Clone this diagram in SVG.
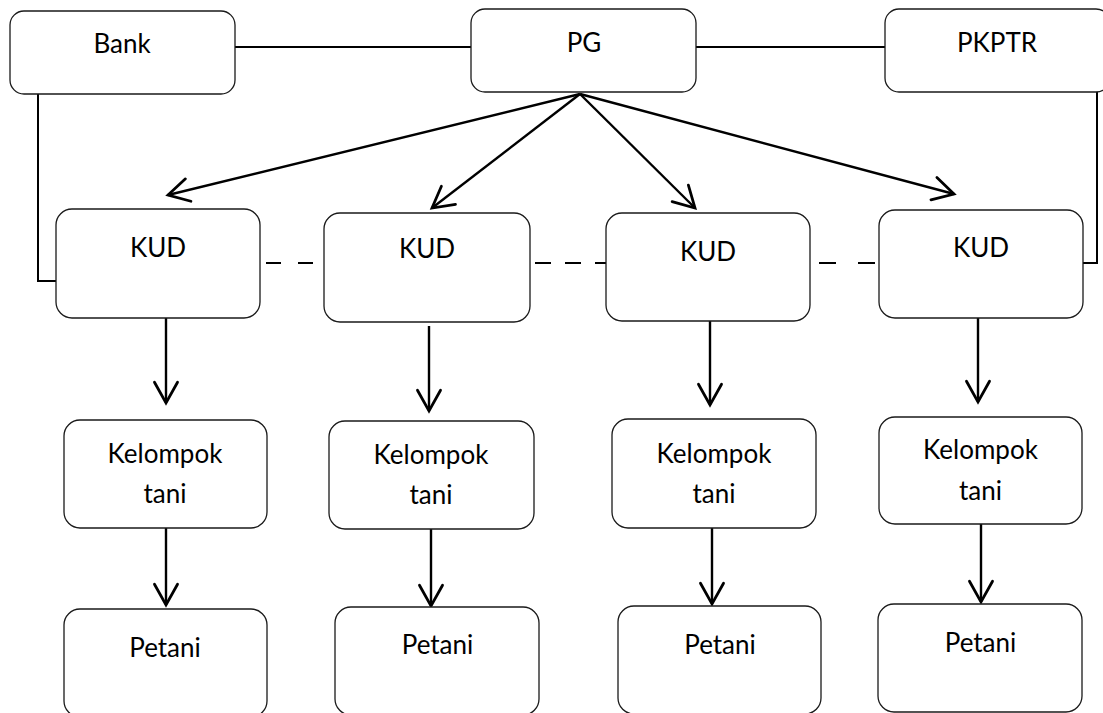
<svg xmlns="http://www.w3.org/2000/svg" width="1103" height="713" viewBox="0 0 1103 713">
<style>
.box{fill:#fff;stroke:#1a1a1a;stroke-width:1.3}
.t{font-family:Lato,"Open Sans","Liberation Sans",sans-serif;font-size:26px;fill:#000;text-anchor:middle}
.c{fill:none;stroke:#000;stroke-width:2}
.a{fill:none;stroke:#000;stroke-width:2.4}
.d{fill:none;stroke:#000;stroke-width:2;stroke-dasharray:15 17}
</style>
<defs>
<marker id="arr" markerUnits="userSpaceOnUse" markerWidth="30" markerHeight="30" viewBox="-22 -13 26 26" refX="0" refY="0" orient="auto" overflow="visible">
<path d="M-18,-10 L0,0 L-18,10" fill="none" stroke="#000" stroke-width="2.4" stroke-linecap="round" stroke-linejoin="miter"/>
</marker>
</defs>
<rect width="1103" height="713" fill="#fff"/>
<g id="connectors">
<path class="c" d="M235,47 H471"/>
<path class="c" d="M696,47 H890"/>
<path class="c" d="M38,94 V281 H56"/>
<path class="c" d="M1097,92 V263 H1079"/>
<path class="d" d="M266,263 H316"/>
<path class="d" d="M535,263 H608" style="stroke-dasharray:16 14"/>
<path class="d" d="M819,263 H879" style="stroke-dasharray:17 22"/>
<path class="a" d="M580,94 L168,195" marker-end="url(#arr)"/>
<path class="a" d="M580,94 L432,208" marker-end="url(#arr)"/>
<path class="a" d="M580,94 L695,208" marker-end="url(#arr)"/>
<path class="a" d="M580,94 L954,194" marker-end="url(#arr)"/>
<path class="a" d="M166,318 V403" marker-end="url(#arr)"/>
<path class="a" d="M166,528 V605" marker-end="url(#arr)"/>
<path class="a" d="M429,326 V411" marker-end="url(#arr)"/>
<path class="a" d="M431,529 V606" marker-end="url(#arr)"/>
<path class="a" d="M710,321 V405" marker-end="url(#arr)"/>
<path class="a" d="M712,528 V604" marker-end="url(#arr)"/>
<path class="a" d="M978,318 V402" marker-end="url(#arr)"/>
<path class="a" d="M981,524 V602" marker-end="url(#arr)"/>
</g>
<g id="bank"><rect class="box" x="10" y="11" width="225" height="83" rx="14"/><text class="t" x="122" y="53">Bank</text></g>
<g id="pg"><rect class="box" x="471" y="9" width="225" height="83" rx="14"/><text class="t" x="584" y="52">PG</text></g>
<g id="pkptr"><rect class="box" x="885" y="9" width="225" height="83" rx="14"/><text class="t" x="997" y="52">PKPTR</text></g>
<g id="kud1"><rect class="box" x="56" y="209" width="204" height="109" rx="16"/><text class="t" x="158" y="257">KUD</text></g>
<g id="kud2"><rect class="box" x="324" y="213" width="206" height="109" rx="16"/><text class="t" x="427" y="258">KUD</text></g>
<g id="kud3"><rect class="box" x="606" y="213" width="204" height="108" rx="16"/><text class="t" x="708" y="261">KUD</text></g>
<g id="kud4"><rect class="box" x="879" y="210" width="204" height="108" rx="16"/><text class="t" x="981" y="257">KUD</text></g>
<g id="kt1"><rect class="box" x="64" y="420" width="203" height="108" rx="16"/><text class="t" x="165" y="463">Kelompok</text><text class="t" x="165" y="503">tani</text></g>
<g id="kt2"><rect class="box" x="329" y="421" width="205" height="108" rx="16"/><text class="t" x="431" y="464">Kelompok</text><text class="t" x="431" y="504">tani</text></g>
<g id="kt3"><rect class="box" x="612" y="419" width="204" height="109" rx="16"/><text class="t" x="714" y="463">Kelompok</text><text class="t" x="714" y="503">tani</text></g>
<g id="kt4"><rect class="box" x="879" y="417" width="203" height="107" rx="16"/><text class="t" x="980.5" y="459">Kelompok</text><text class="t" x="980.5" y="500">tani</text></g>
<g id="p1"><rect class="box" x="64" y="609" width="203" height="108" rx="16"/><text class="t" x="165" y="657">Petani</text></g>
<g id="p2"><rect class="box" x="335" y="607" width="204" height="108" rx="16"/><text class="t" x="437.5" y="654">Petani</text></g>
<g id="p3"><rect class="box" x="618" y="606" width="203" height="108" rx="16"/><text class="t" x="720" y="654">Petani</text></g>
<g id="p4"><rect class="box" x="878" y="604" width="204" height="108" rx="16"/><text class="t" x="980.5" y="652">Petani</text></g>
</svg>
